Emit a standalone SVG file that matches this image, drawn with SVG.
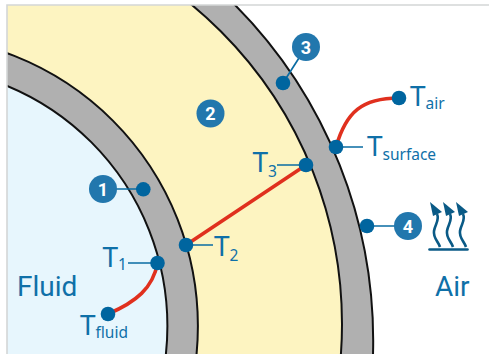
<svg xmlns="http://www.w3.org/2000/svg" width="489" height="354" viewBox="0 0 489 354">
<style>
.w{stroke:#111;stroke-width:2}
.lead{stroke:#0a6ca3;stroke-width:1.7;fill:none}
.red{stroke:#e0301e;stroke-width:3.6;fill:none}
.dot{fill:#00659f}
.badge{fill:#2277ad}
.num{fill:#fff;font:700 18px "Roboto","Liberation Sans",sans-serif;text-anchor:middle}
.t{fill:#0f70a8;font-family:"Noto Sans","Liberation Sans",sans-serif;font-size:28px}
.r{font-family:"Roboto","Liberation Sans",sans-serif}
.s{font-size:15.500px}
.icon{stroke:#0a5a86;stroke-width:2.6;fill:none}
.tip{fill:#0a5a86}
</style>
<defs><clipPath id="c"><rect x="7" y="5" width="482" height="349"/></clipPath></defs>
<rect width="489" height="354" fill="#fff"/>
<g clip-path="url(#c)">
<circle cx="-103.7" cy="340.7" r="476.9" fill="#b0b0b0" class="w"/>
<circle cx="-72" cy="324" r="414" fill="#fdf4c1" class="w"/>
<circle cx="-92.6" cy="326" r="290.5" fill="#b0b0b0" class="w"/>
<circle cx="-92.6" cy="326" r="260" fill="#e7f6fd" class="w"/>
</g>
<path d="M7 354V5H489" fill="none" stroke="#d4d6d6" stroke-width="1.6"/>
<g id="connectors">
<path class="red" d="M186 245L306 165"/>
<path class="red" d="M157.500 263C153 288 136 302 108 314"/>
<path class="red" d="M336 147C346 112 362 98 399 98"/>
<path class="lead" d="M103 189H143M283 83L306 47M367 226H408M186 245H213M306 165H277M157.500 263H128M336 147H363"/>
</g>
<g id="node-1"><circle class="dot" cx="143.300" cy="189.300" r="7.300"/><circle class="badge" cx="103" cy="189" r="14"/><text class="num" x="103" y="195.500">1</text></g>
<g id="node-2"><circle class="badge" cx="210.500" cy="113.500" r="14"/><text class="num" x="210.500" y="120">2</text></g>
<g id="node-3"><circle class="dot" cx="283" cy="83" r="7.300"/><circle class="badge" cx="306" cy="47" r="14"/><text class="num" x="306" y="53.500">3</text></g>
<g id="node-4"><circle class="dot" cx="367" cy="226" r="7.300"/><circle class="badge" cx="408" cy="226" r="14"/><text class="num" x="408" y="232.500">4</text></g>
<g id="T1"><circle class="dot" cx="157.500" cy="263" r="7.300"/><text class="t" x="102.500" y="267">T<tspan class="s" x="118" y="270">1</tspan></text></g>
<g id="T2"><circle class="dot" cx="186" cy="245" r="7.300"/><text class="t" x="214" y="256">T<tspan class="s" x="229.500" y="261">2</tspan></text></g>
<g id="T3"><circle class="dot" cx="306" cy="165" r="7.300"/><text class="t" x="252.500" y="172">T<tspan class="s" x="268" y="177">3</tspan></text></g>
<g id="Tsurface"><circle class="dot" cx="336" cy="147" r="7.300"/><text class="t" x="367" y="156">T<tspan class="s" x="382.500" y="160">surface</tspan></text></g>
<g id="Tair"><circle class="dot" cx="399" cy="98" r="7.300"/><text class="t" x="410" y="106">T<tspan class="s" x="425.500" y="109">air</tspan></text></g>
<g id="Tfluid"><circle class="dot" cx="108" cy="314" r="7.300"/><text class="t" x="80" y="335">T<tspan class="s" x="95.500" y="338">fluid</tspan></text></g>
<text class="t r" x="17" y="296">Fluid</text>
<text class="t r" x="435" y="296">Air</text>
<g id="air-icon">
<path class="icon" stroke-linecap="round" d="M429.500 249.500H467.500"/>
<path class="icon" d="M437 214C440 220 435 224 434 231C433 238 438 241 440 247"/>
<path class="icon" d="M450 214C453 220 448 224 447 231C446 238 451 241 453 247"/>
<path class="icon" d="M463 214C466 220 461 224 460 231C459 238 464 241 466 247"/>
<path class="tip" d="M430 202L442 212L433 216Z"/>
<path class="tip" d="M443 202L455 212L446 216Z"/>
<path class="tip" d="M456 202L468 212L459 216Z"/>
</g>
</svg>
